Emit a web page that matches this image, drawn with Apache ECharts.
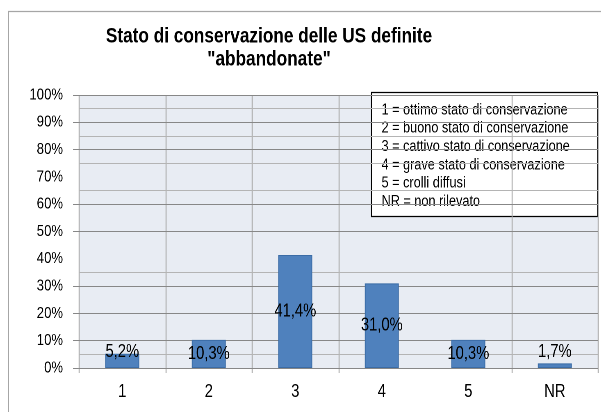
<!DOCTYPE html>
<html>
<head>
<meta charset="utf-8">
<script src="https://cdn.jsdelivr.net/npm/echarts@6/dist/echarts.min.js"></script>
<style>
  html, body { margin: 0; padding: 0; background: #ffffff; overflow: hidden; }
  #frame { width: 601px; height: 412px; overflow: hidden; position: relative; }
  /* the chart is laid out wider and squeezed horizontally, giving narrow lettering */
  #chart { width: 733px; height: 412px; transform: scaleX(0.82); transform-origin: 0 0; }
</style>
</head>
<body>
<div id="frame"><div id="chart"></div></div>
<script>
// Conservation state of the "abandoned" stratigraphic units (share of total, %)
const categories = ['1', '2', '3', '4', '5', 'NR'];
const shares = [5.2, 10.3, 41.4, 31.0, 10.3, 1.7];

// Horizontal rules of the plot area (percent levels)
const majorRules = [0, 10, 20, 30, 50, 60, 80, 90, 100];
const minorRules = [5, 35, 65, 75, 85, 95];

const titleLines = ['Stato di conservazione delle US definite', '"abbandonate"'];
const keyLines = [
  '1 = ottimo stato di conservazione',
  '2 = buono stato di conservazione',
  '3 = cattivo stato di conservazione',
  '4 = grave stato di conservazione',
  '5 = crolli diffusi',
  'NR = non rilevato'
];

const SX = 0.82;                       // horizontal squeeze applied by CSS
const px = (x) => x / SX;              // screen x -> layout x

const FONT = '"Liberation Sans", Arial, sans-serif';
const MAJOR_COLOR = '#878787';
const MINOR_COLOR = '#b4b4b4';
const VERT_COLOR = '#a9a9a9';

// the boundary between categories "4" and "5" carries no rule
const skipBoundary = (idx) => idx !== 4;

const fmtPct = (v) => v.toFixed(1).replace('.', ',') + '%';

const barData = shares.map((v) => ({
  value: v,
  // labels of very short bars sit just above the baseline so they stay legible
  label: v < 6 ? { position: 'insideBottom', distance: 7 } : undefined
}));

const ruleData = majorRules.map((v) => ({ yAxis: v, lineStyle: { color: MAJOR_COLOR } }))
  .concat(minorRules.map((v) => ({ yAxis: v, lineStyle: { color: MINOR_COLOR } })));

const chart = echarts.init(document.getElementById('chart'), null, { renderer: 'canvas', devicePixelRatio: 2 });

chart.setOption({
  animation: false,
  backgroundColor: '#ffffff',
  textStyle: { fontFamily: FONT },
  grid: {
    left: px(79), right: px(3), top: 95, bottom: 44,
    show: true, backgroundColor: '#e8ecf3', borderWidth: 0
  },
  xAxis: {
    type: 'category',
    data: categories,
    boundaryGap: true,
    axisLine: { show: false },
    axisTick: { show: true, length: 5, interval: skipBoundary, lineStyle: { color: VERT_COLOR, width: 1 / SX } },
    splitLine: { show: true, interval: skipBoundary, lineStyle: { color: VERT_COLOR, width: 1 / SX } },
    axisLabel: { fontFamily: FONT, fontSize: 18, color: '#000', margin: 15 }
  },
  yAxis: {
    type: 'value',
    min: 0, max: 100, interval: 10,
    axisLine: { show: false },
    axisTick: { show: true, length: px(6), customValues: majorRules, lineStyle: { color: MAJOR_COLOR } },
    splitLine: { show: false },
    axisLabel: { fontFamily: FONT, fontSize: 16, color: '#000', margin: px(16), formatter: '{value}%' }
  },
  series: [
    {
      type: 'line',
      data: [],
      silent: true,
      markLine: {
        z: 1,
        silent: true,
        animation: false,
        symbol: ['none', 'none'],
        label: { show: false },
        lineStyle: { type: 'solid', width: 1 },
        emphasis: { disabled: true },
        data: ruleData
      }
    },
    {
      type: 'bar',
      z: 3,
      data: barData,
      barWidth: px(34),
      itemStyle: { color: '#4f81bd', borderColor: '#3b6ca6', borderWidth: 1 },
      label: {
        show: true,
        position: 'inside',
        fontFamily: FONT,
        fontSize: 18,
        color: '#000',
        formatter: (p) => fmtPct(p.value)
      }
    }
  ],
  graphic: [
    {
      type: 'rect',
      silent: true,
      shape: { x: px(8.5), y: 11.5, width: 900, height: 500 },
      style: { fill: 'none', stroke: '#a6a6a6', lineWidth: 1 / SX },
      z: 0
    },
    {
      type: 'text',
      x: px(269),
      y: 25,
      style: {
        text: titleLines.join('\n'),
        align: 'center',
        verticalAlign: 'top',
        font: 'bold 21px ' + FONT,
        lineHeight: 23,
        fill: '#000'
      }
    },
    {
      type: 'group',
      z: 10,
      children: [
        {
          type: 'rect',
          shape: { x: px(371.5), y: 92.5, width: px(226), height: 124 },
          style: { fill: '#ffffff', stroke: '#000000', lineWidth: 1.2 }
        },
        {
          type: 'text',
          x: px(381.5),
          y: 101,
          style: {
            text: keyLines.join('\n'),
            align: 'left',
            verticalAlign: 'top',
            font: '15.5px ' + FONT,
            lineHeight: 18.3,
            fill: '#000'
          }
        }
      ]
    }
  ]
});
</script>
</body>
</html>
